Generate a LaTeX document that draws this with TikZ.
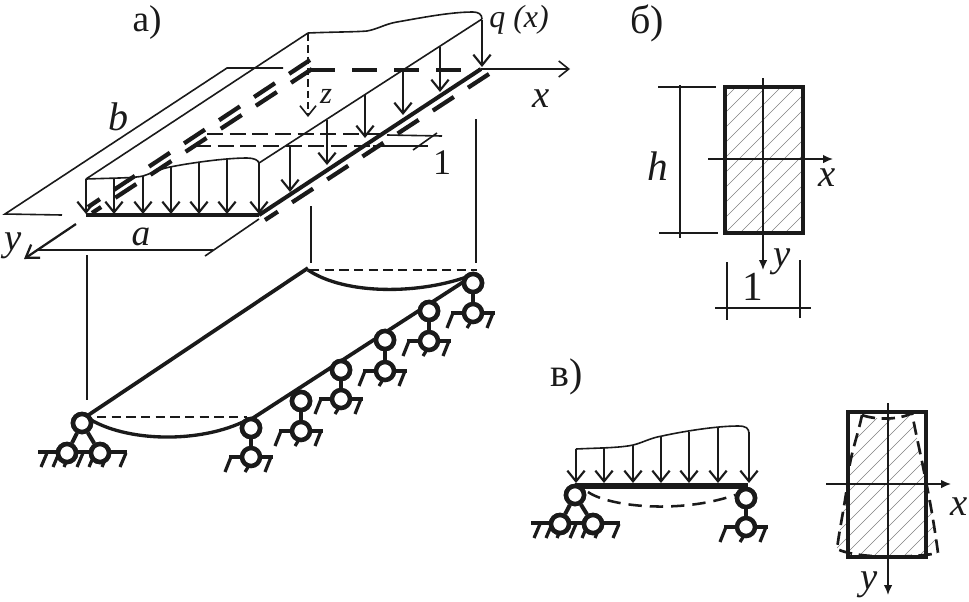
\documentclass[tikz,border=0pt]{standalone}
\usepackage{fontspec}
\setmainfont{Liberation Serif}
\usetikzlibrary{arrows.meta, positioning}
\definecolor{ink}{HTML}{1A1A1A}
\tikzset{
  thinline/.style={ink, line width=1.2pt},
  beamline/.style={ink, line width=3pt},
  hatchfoot/.style={ink, line width=2.4pt},
  heavydash/.style={ink, line width=3.2pt, dash pattern=on 18.8pt off 12.7pt},
  loadarrow/.style={ink, line width=1.6pt, -{Straight Barb[length=8pt, width=13pt]}},
  axisarrow/.style={ink, line width=1.2pt, -{Straight Barb[length=7.5pt, width=12pt]}},
  solidarrow/.style={ink, line width=1.2pt, -{Latex[length=7.5pt, width=6.5pt]}},
  ring/.style={circle, draw=ink, fill=white, line width=3.4pt, minimum size=13.5pt, inner sep=0pt},
  hatchline/.style={gray, line width=0.4pt},
  lab/.style={ink, inner sep=0pt, font=\fontsize{#1}{#1}\selectfont},
  ilab/.style={ink, inner sep=0pt, font=\fontsize{#1}{#1}\selectfont\itshape},
}
% roller support: joint on the plate, joint on the ground
\newcommand{\rollersup}[4]{
  \node[ring] (#1t) at (#2, #3) {};
  \draw[beamline] (#2-22, #4) -- (#2+22, #4);
  \draw[hatchfoot] (#2-20, #4) -- (#2-26, #4+15);
  \draw[hatchfoot] (#2-1, #4+7) -- (#2-6, #4+15);
  \draw[hatchfoot] (#2+20, #4) -- (#2+14, #4+15);
  \draw[beamline] (#1t) -- (#2, #4);
  \node[ring] (#1b) at (#2, #4) {};
  \node[ring] at (#1t) {};
}
% pinned support: apex, ground level
\newcommand{\pinsup}[4]{
  \draw[beamline] (#2-44, #4) -- (#2+45, #4);
  \foreach \hx in {-35, -23, -12, 1, 13, 26, 44}
    \draw[hatchfoot] (#2+\hx, #4+1) -- (#2+\hx-6, #4+15);
  \node[ring] (#1t) at (#2, #3) {};
  \node[ring] (#1l) at (#2-15, #4+1) {};
  \node[ring] (#1r) at (#2+18, #4+1) {};
  \draw[beamline] (#1t) -- (#1l);
  \draw[beamline] (#1t) -- (#1r);
  \node[ring] at (#1t) {};
  \node[ring] at (#1l) {};
  \node[ring] at (#1r) {};
}
\begin{document}
\begin{tikzpicture}[x=0.75pt, y=-0.75pt]
  \useasboundingbox (0, 0) rectangle (969, 601);

  % a) plate with load
  \coordinate (FL) at (86, 215);
  \coordinate (FR) at (259, 215);
  \coordinate (BR) at (481, 69);
  \coordinate (TFL) at (86, 179);
  \coordinate (TBL) at (308, 33);
  \coordinate (TFR) at (259, 163);
  \coordinate (TBR) at (482, 19);

  \draw[thinline] (TFL) -- (TBL);
  \draw[thinline] (TFR) -- (TBR);
  \draw[thinline] (TFL) .. controls (115, 178) and (135, 178) .. (143, 176)
    .. controls (155, 172) and (160, 169) .. (170, 167)
    .. controls (190, 163) and (225, 158) .. (247, 158)
    .. controls (254, 158) and (258, 160) .. (TFR);
  \draw[thinline] (TBL) .. controls (330, 32) and (355, 32) .. (367, 31)
    .. controls (378, 29) and (385, 24) .. (397, 22)
    .. controls (420, 18) and (450, 12) .. (473, 12)
    .. controls (478, 12) and (482, 14) .. (TBR);
  \foreach \x/\yt in {86/179, 114/178, 143/176, 171/167, 199/162, 227/159, 259/163}
    \draw[loadarrow] (\x, \yt) -- (\x, 214);
  \foreach \x/\yt/\yb in {482/20/67, 440/47/92, 403/70/115, 365/95/138, 327/120/165, 290/145/192}
    \draw[loadarrow] (\x, \yt) -- (\x, \yb);
  \draw[beamline, line width=3.4pt] (FL) -- (FR);
  \draw[beamline] (FR) -- (BR);
  \draw[heavydash] (489, 74) -- (265, 220);
  \draw[heavydash] (310, 60) -- (88, 207);
  \draw[heavydash] (312, 69) -- (92, 213);
  \draw[heavydash] (310, 70) -- (480, 70);
  \draw[axisarrow, dash pattern=on 5.5pt off 3pt] (308, 34) -- (308, 117);

  % strip of unit width
  \draw[thinline, dash pattern=on 12pt off 5pt] (207, 134) -- (387, 134);
  \draw[thinline] (387, 135) -- (442, 136);
  \draw[thinline, dash pattern=on 12pt off 5pt] (195, 146) -- (373, 146);
  \draw[thinline] (373, 146) -- (428, 146);
  \draw[thinline] (413, 150) -- (437, 133);

  % a) dimension lines and axes
  \draw[thinline] (62, 215) -- (5, 214) -- (227, 68) -- (283, 68);
  \draw[thinline] (205, 256) -- (259, 219);
  \draw[thinline] (38, 250) -- (213, 250);
  \draw[ink, line width=1.7pt, -{Straight Barb[length=9pt, width=12pt]}] (76, 224) -- (24, 259);
  \draw[axisarrow] (BR) -- (570, 69);

  \node[lab=28] (LabA) at (147, 23) {а)};
  \node[ilab=30] (LabB) at (118, 117) {b};
  \node[ilab=28] (LabW) at (141, 237) {a};
  \node[ilab=29] (LabY) at (13, 246) {y};
  \node[ilab=29] (LabX) at (541, 99) {x};
  \node[ilab=23] (LabZ) at (326, 96) {z};
  \node[ilab=24] (LabQ) at (519, 20) {q (x)};
  \node[lab=27] (LabOne) at (442, 163) {1};

  % projection lines
  \draw[thinline, line width=1.7pt] (87, 255) -- (87, 400);
  \draw[thinline, line width=1.7pt] (311, 206) -- (311, 263);
  \draw[thinline, line width=1.7pt] (476, 119) -- (476, 263);

  % a) lower plate on supports
  \draw[beamline, line width=2.8pt] (84, 418) -- (308, 268);
  \draw[beamline, line width=2.8pt] (250, 420) -- (474, 275);
  \draw[thinline, dash pattern=on 7pt off 4pt] (97, 417) -- (247, 417);
  \draw[thinline, dash pattern=on 7pt off 4pt] (310, 270) -- (477, 270);
  \draw[beamline, line width=2.5pt] (88, 418) .. controls (125, 442) and (200, 444) .. (247, 420);
  \draw[beamline, line width=2.5pt] (308, 270) .. controls (345, 295) and (420, 295) .. (472, 275);
  \pinsup{PA}{82}{423}{452}
  \foreach \i/\x/\yt/\yb in {1/251/428/457, 2/301/401/431, 3/341/370/399, 4/385/340/371, 5/429/311/341, 6/473/283/313}
    {\rollersup{R\i}{\x}{\yt}{\yb}}

  % b) cross section
  \begin{scope}
    \clip (725, 87) rectangle (803, 233);
    \foreach \h in {-75, -60, ..., 165}
      \draw[hatchline] (725+\h-75, 233) -- (725+\h+75, 83);
  \end{scope}
  \draw[beamline] (725, 87) rectangle (803, 233);
  \draw[solidarrow] (763, 78) -- (763, 270);
  \draw[solidarrow] (708, 159) -- (833, 159);
  \draw[thinline] (658, 87) -- (716, 87);
  \draw[thinline] (659, 233) -- (718, 233);
  \draw[thinline] (680, 85) -- (680, 238);
  \draw[thinline] (727, 262) -- (727, 320);
  \draw[thinline] (800, 260) -- (800, 318);
  \draw[thinline] (715, 308) -- (811, 308);
  \node[lab=30] (LabB2) at (647, 23) {б)};
  \node[ilab=31] (LabH) at (658, 166) {h};
  \node[ilab=29] (LabX2) at (827, 178) {x};
  \node[ilab=29] (LabY2) at (782, 262) {y};
  \node[lab=31] (LabOne2) at (753, 287) {1};

  % c) beam
  \draw[thinline] (576, 449) .. controls (595, 448) and (620, 448) .. (633, 445)
    .. controls (642, 443) and (650, 438) .. (662, 436)
    .. controls (680, 432) and (715, 426) .. (738, 426)
    .. controls (746, 426) and (749, 428) .. (749, 434);
  \foreach \x/\yt in {576/449, 604/448, 633/445, 661/437, 689/432, 718/428, 749/432}
    \draw[loadarrow] (\x, \yt) -- (\x, 483);
  \draw[beamline, line width=3.8pt] (575, 486) -- (748, 486);
  \draw[ink, line width=1.9pt, dash pattern=on 10pt off 6pt] (588, 492) .. controls (610, 507) and (680, 514) .. (735, 495);
  \pinsup{PC}{575}{495}{523}
  \rollersup{RC}{746}{498}{527}

  % c) deformed cross section
  \begin{scope}
    \clip (862, 415) .. controls (875, 420) and (900, 420) .. (912, 413)
      .. controls (917, 440) and (922, 460) .. (925, 477)
      .. controls (930, 500) and (935, 530) .. (938, 553)
      .. controls (920, 557) and (860, 560) .. (837, 549)
      .. controls (840, 525) and (846, 500) .. (848, 477)
      .. controls (850, 455) and (858, 435) .. cycle;
    \foreach \h in {-30, -15, ..., 210}
      \draw[hatchline] (810+\h-75, 560) -- (810+\h+75, 410);
  \end{scope}
  \draw[beamline] (848, 412) rectangle (926, 557);
  \draw[ink, line width=2pt, dash pattern=on 10pt off 5pt] (862, 415) .. controls (875, 420) and (900, 420) .. (912, 413)
    .. controls (917, 440) and (922, 460) .. (925, 477)
    .. controls (930, 500) and (935, 530) .. (938, 553)
    .. controls (920, 557) and (860, 560) .. (837, 549)
    .. controls (840, 525) and (846, 500) .. (848, 477)
    .. controls (850, 455) and (858, 435) .. (862, 415);
  \draw[solidarrow] (888, 403) -- (888, 595);
  \draw[solidarrow] (826, 484) -- (951, 484);
  \node[lab=30] (LabC) at (567, 377) {в)};
  \node[ilab=29] (LabX3) at (959, 507) {x};
  \node[ilab=29] (LabY3) at (869, 585) {y};
\end{tikzpicture}
\end{document}
